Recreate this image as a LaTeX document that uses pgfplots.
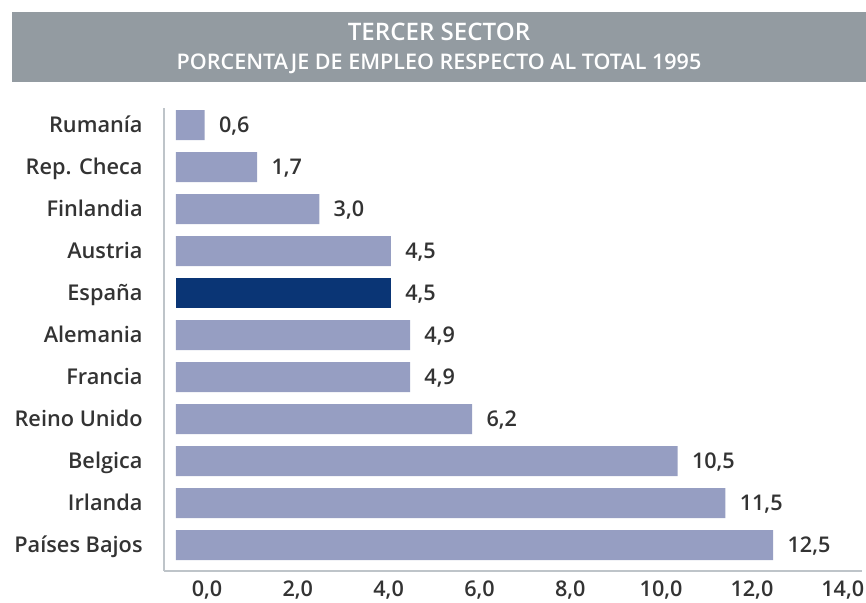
\documentclass[border=0pt]{standalone}
\usepackage{pgfplots}
\pgfplotsset{compat=1.18}
\usepackage{fontspec}
\IfFontExistsTF{Open Sans SemiBold}{%
  \setmainfont{Open Sans}[BoldFont={Open Sans SemiBold}]\def\sbscale{1.03}}{%
  \IfFontExistsTF{Open Sans Semibold}{%
    \setmainfont{Open Sans}[BoldFont={Open Sans Semibold}]\def\sbscale{1.03}}{%
    \setmainfont{Open Sans}\def\sbscale{0.97}}}
\definecolor{barc}{RGB}{150,158,194}
\definecolor{spain}{RGB}{10,53,117}
\definecolor{band}{RGB}{147,155,161}
\definecolor{axc}{RGB}{190,196,201}
\definecolor{txt}{RGB}{51,51,51}
\newcommand\fs[1]{\fontsize{\fpeval{#1*\sbscale}}{14}\selectfont}
\begin{document}
\begin{tikzpicture}[x=1pt,y=1pt]
\useasboundingbox (-82,-15.5) rectangle (351,285.5);
\fill[band] (-76,244.5) rectangle (351,279.5);
\node[white,anchor=base,inner sep=0pt,font=\bfseries\fs{11.7}] at (137.5,265.2) {TERCER SECTOR};
\node[white,anchor=base,inner sep=0pt,font=\bfseries\fs{10.45}] at (137.5,250.8) {PORCENTAJE DE EMPLEO RESPECTO AL TOTAL 1995};
\begin{axis}[
  at={(0,0)}, anchor=south west, scale only axis,
  width=349pt, height=231.5pt,
  xmin=-0.251, xmax=14.36, ymin=-0.619, ymax=10.405,
  xbar, bar width=15pt, bar shift=0pt,
  axis x line*=bottom, axis y line*=left,
  axis line style={axc, line width=1pt, -},
  major tick length=0pt,
  xtick={0.649,2.550,4.451,6.353,8.254,10.155,12.056,13.957},
  xticklabels={{0,0},{2,0},{4,0},{6,0},{8,0},{10,0},{12,0},{14,0}},
  ytick={0,1,2,3,4,5,6,7,8,9,10},
  yticklabels={Países Bajos,Irlanda,Belgica,Reino Unido,Francia,Alemania,España,Austria,Finlandia,Rep. Checa,Rumanía},
  xticklabel style={text=txt, font=\bfseries\fs{10.5}, anchor=base, yshift=-12.5pt},
  yticklabel style={text=txt, font=\bfseries\fs{10.55}, anchor=base east, inner sep=0pt, xshift=-10.5pt, yshift=-3.8pt},
  point meta=x,
  nodes near coords={\pgfmathprintnumber[fixed,fixed zerofill,precision=1,use comma,assume math mode=true]{\pgfplotspointmeta}},
  nodes near coords align=horizontal,
  every node near coord/.append style={text=txt, font=\bfseries\fs{10.5}, anchor=base west, inner sep=0pt, xshift=7pt, yshift=-3.7pt},
  clip=false,
]
\addplot[draw=none, fill=barc] coordinates {
(0.6,10) (1.7,9) (3.0,8) (4.5,7) (4.9,5) (4.9,4) (6.2,3) (10.5,2) (11.5,1) (12.5,0)};
\addplot[draw=none, fill=spain] coordinates {(4.5,6)};
\end{axis}
\end{tikzpicture}
\end{document}
